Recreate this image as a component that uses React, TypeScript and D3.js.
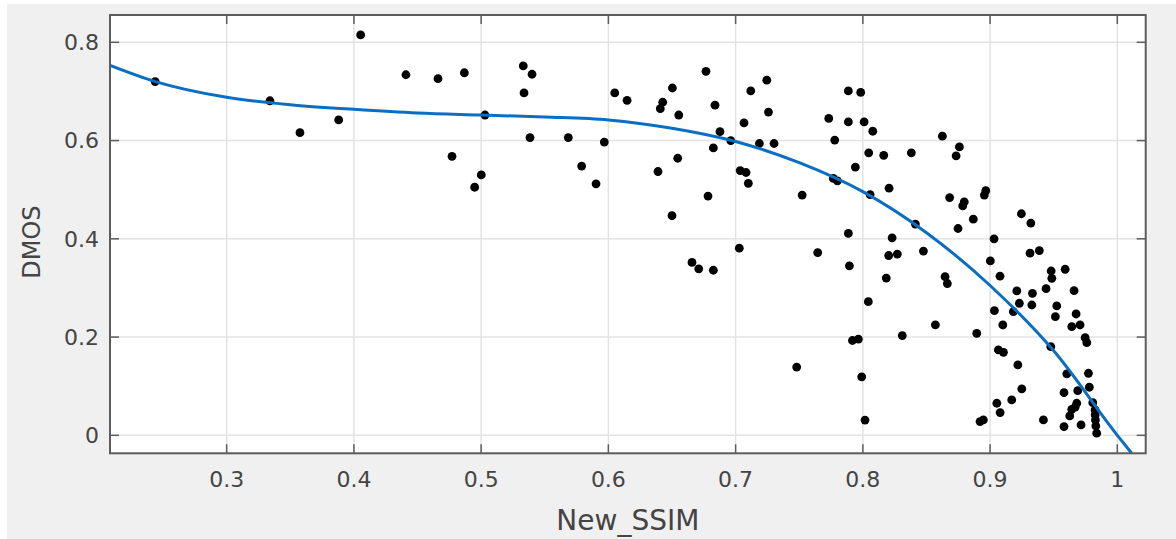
import React from "react";
import * as d3 from "d3";

const ssim = [
  0.2438, 0.334, 0.3576, 0.388, 0.4053, 0.4409, 0.4661, 0.4868, 0.4771, 0.5001, 0.4949, 0.503,
  0.5331, 0.54, 0.5337, 0.5384, 0.5685, 0.579, 0.5903, 0.5968, 0.605, 0.6147, 0.639, 0.6408,
  0.6427, 0.6503, 0.6553, 0.6545, 0.65, 0.6767, 0.6838, 0.6877, 0.6825, 0.6962, 0.6783, 0.6657,
  0.671, 0.6825, 0.7029, 0.7119, 0.7066, 0.7036, 0.7082, 0.71, 0.7245, 0.7258, 0.7187, 0.7302,
  0.7523, 0.748,
  0.7886, 0.7983, 0.7732, 0.7886, 0.801, 0.8078, 0.7779, 0.8046, 0.8164, 0.8381, 0.8625, 0.7941,
  0.7768, 0.78, 0.8057, 0.8206, 0.8413, 0.7886, 0.823, 0.8476, 0.8203, 0.8271, 0.7645, 0.7894,
  0.8184, 0.8043, 0.857, 0.831, 0.7918, 0.7965, 0.7991, 0.8017,
  0.8759, 0.8733, 0.8682, 0.8797, 0.8785, 0.8966, 0.8955, 0.8868, 0.8748, 0.9246, 0.932, 0.9031,
  0.9314, 0.9387, 0.9002, 0.9078, 0.8646, 0.8664, 0.948, 0.9485, 0.959, 0.944, 0.921, 0.9333,
  0.966, 0.8895, 0.9034, 0.9183, 0.923, 0.9328, 0.91, 0.9524, 0.9513, 0.9676, 0.9642, 0.9707,
  0.9747, 0.976, 0.9477, 0.9065, 0.9105, 0.9218, 0.9603, 0.9773, 0.9249, 0.9581, 0.9689, 0.978,
  0.917, 0.9053, 0.9079, 0.9681, 0.9642, 0.9668, 0.9626, 0.9807, 0.9825, 0.9826, 0.9828, 0.9831,
  0.9838, 0.8921, 0.8947, 0.9419, 0.9581, 0.9715,
];

const dmos = [
  0.72, 0.681, 0.616, 0.642, 0.815, 0.734, 0.726, 0.738, 0.568, 0.53, 0.505, 0.652,
  0.752, 0.735, 0.697, 0.606, 0.606, 0.548, 0.512, 0.597, 0.697, 0.682, 0.537, 0.665,
  0.678, 0.707, 0.652, 0.564, 0.447, 0.741, 0.672, 0.618, 0.585, 0.6, 0.487, 0.352,
  0.339, 0.336, 0.381, 0.701, 0.636, 0.539, 0.535, 0.513, 0.723, 0.658, 0.594, 0.594,
  0.489, 0.139,
  0.701, 0.698, 0.645, 0.638, 0.638, 0.619, 0.601, 0.575, 0.57, 0.575, 0.609, 0.546,
  0.523, 0.518, 0.49, 0.503, 0.43, 0.411, 0.402, 0.375, 0.366, 0.369, 0.372, 0.345,
  0.32, 0.272, 0.225, 0.203, 0.193, 0.196, 0.119, 0.031,
  0.587, 0.569, 0.484, 0.475, 0.467, 0.498, 0.489, 0.44, 0.421, 0.451, 0.432, 0.4,
  0.371, 0.376, 0.355, 0.324, 0.323, 0.309, 0.3345, 0.3196, 0.338, 0.2985, 0.294, 0.289,
  0.2944, 0.2077, 0.2537, 0.2517, 0.2688, 0.2653, 0.2246, 0.2633, 0.2415, 0.247, 0.2212, 0.2246,
  0.1988, 0.1886, 0.1805, 0.1738, 0.169, 0.1432, 0.1249, 0.1263, 0.0944, 0.0869, 0.0909, 0.0979,
  0.072, 0.0653, 0.0462, 0.0653, 0.053, 0.0572, 0.0395, 0.0665, 0.0517, 0.0415, 0.0313, 0.0191,
  0.0043, 0.0279, 0.0313, 0.0313, 0.0177, 0.0212,
];

// fitted curve
const fitX = [0.2083, 0.244, 0.3, 0.35, 0.4, 0.45, 0.5, 0.55, 0.6, 0.65, 0.7, 0.75, 0.8, 0.85, 0.9, 0.95, 1.0, 1.0113];
const fitY = [0.753, 0.72, 0.688, 0.673, 0.6635, 0.656, 0.652, 0.648, 0.642, 0.625, 0.598, 0.555, 0.496, 0.4125, 0.305, 0.172, 0.0, -0.0366];

const xTicks = [0.3, 0.4, 0.5, 0.6, 0.7, 0.8, 0.9, 1];
const yTicks = [0, 0.2, 0.4, 0.6, 0.8];
const xLabel = "New_SSIM";
const yLabel = "DMOS";

const W = 1176;
const H = 539;
const L = 110, R = 1145.7, T = 15, B = 453.3;

export default function App() {
  const x = d3.scaleLinear().domain([0.2083, 1.0223]).range([L, R]);
  const y = d3.scaleLinear().domain([-0.0366, 0.8556]).range([B, T]);
  const pts = fitX.map((v, i) => [v, fitY[i]] as [number, number]);
  const line = d3
    .line<[number, number]>()
    .x((d) => x(d[0]))
    .y((d) => y(d[1]))
    .curve(d3.curveMonotoneX);
  const axisColor = "#5c5c5c";
  const textColor = "#444444";
  const font = "'DejaVu Sans', Verdana, sans-serif";
  return (
    <div>
      <style>{"body{margin:0}"}</style>
      <svg width={W} height={H} style={{ display: "block" }}>
        <defs>
          <clipPath id="plotclip">
            <rect x={L} y={T} width={R - L} height={B - T} />
          </clipPath>
        </defs>
        <rect x={0} y={0} width={W} height={H} fill="#ffffff" />
        <rect x={7} y={4} width={W - 7} height={H - 4} fill="#f0f0f0" />
        <rect x={L} y={T} width={R - L} height={B - T} fill="#ffffff" />
        {xTicks.map((t) => (
          <line key={"gx" + t} x1={x(t)} x2={x(t)} y1={T} y2={B} stroke="#e3e3e3" strokeWidth={1.5} />
        ))}
        {yTicks.map((t) => (
          <line key={"gy" + t} x1={L} x2={R} y1={y(t)} y2={y(t)} stroke="#e3e3e3" strokeWidth={1.5} />
        ))}
        <g clipPath="url(#plotclip)">
          {ssim.map((v, i) => (
            <circle key={"p" + i} cx={x(v)} cy={y(dmos[i])} r={4.4} fill="#000" />
          ))}
          <path d={line(pts) || ""} fill="none" stroke="#0a6fc2" strokeWidth={3} />
        </g>
        {xTicks.map((t) => (
          <g key={"tx" + t}>
            <line x1={x(t)} x2={x(t)} y1={B} y2={B - 9} stroke={axisColor} strokeWidth={1.5} />
            <line x1={x(t)} x2={x(t)} y1={T} y2={T + 9} stroke={axisColor} strokeWidth={1.5} />
            <text x={x(t)} y={487} textAnchor="middle" fontFamily={font} fontSize={22} fill={textColor}>
              {String(t)}
            </text>
          </g>
        ))}
        {yTicks.map((t) => (
          <g key={"ty" + t}>
            <line x1={L} x2={L + 9} y1={y(t)} y2={y(t)} stroke={axisColor} strokeWidth={1.5} />
            <line x1={R} x2={R - 9} y1={y(t)} y2={y(t)} stroke={axisColor} strokeWidth={1.5} />
            <text x={99} y={y(t)} dy="0.36em" textAnchor="end" fontFamily={font} fontSize={22} fill={textColor}>
              {String(t)}
            </text>
          </g>
        ))}
        <rect x={L} y={T} width={R - L} height={B - T} fill="none" stroke={axisColor} strokeWidth={2} />
        <text x={(L + R) / 2} y={530} textAnchor="middle" fontFamily={font} fontSize={28} fill={textColor}>
          {xLabel}
        </text>
        <text
          transform={`translate(40,${(T + B) / 2 + 8}) rotate(-90)`}
          textAnchor="middle"
          fontFamily={font}
          fontSize={24}
          fill={textColor}
        >
          {yLabel}
        </text>
      </svg>
    </div>
  );
}
